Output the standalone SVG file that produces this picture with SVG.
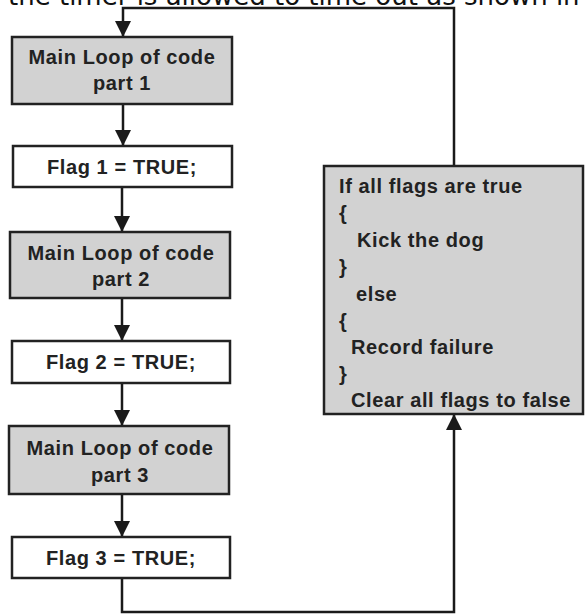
<svg xmlns="http://www.w3.org/2000/svg" width="586" height="614" viewBox="0 0 586 614">
<style>
.box{stroke:#222;stroke-width:2.5}
.gray{fill:#d2d2d2}
.white{fill:#fff}
.t{font-family:"Liberation Sans",Arial,Helvetica,sans-serif;font-weight:bold;font-size:20px;fill:#222;letter-spacing:0.6px}
.c{text-anchor:middle}
.ln{fill:none;stroke:#1a1a1a;stroke-width:2.5}
.hdr{font-family:"DejaVu Sans",Verdana,sans-serif;font-size:26px;fill:#111}
</style>
<defs>
<marker id="ah" markerUnits="userSpaceOnUse" markerWidth="16" markerHeight="16" refX="16" refY="8" orient="auto">
<path d="M0,0 L16,8 L0,16 z" fill="#1a1a1a"/>
</marker>
</defs>
<rect width="586" height="614" fill="#fff"/>
<text class="hdr" x="8" y="5">the timer is allowed to time out as shown in</text>
<g id="connectors">
<path class="ln" d="M454,166 V8 H123 V37" marker-end="url(#ah)"/>
<path class="ln" d="M123,104 V146" marker-end="url(#ah)"/>
<path class="ln" d="M122,187 V232" marker-end="url(#ah)"/>
<path class="ln" d="M122,298 V341" marker-end="url(#ah)"/>
<path class="ln" d="M122,383 V426" marker-end="url(#ah)"/>
<path class="ln" d="M122,494 V537" marker-end="url(#ah)"/>
<path class="ln" d="M122,578 V612 H454 V414" marker-end="url(#ah)"/>
</g>
<g id="main1">
<rect class="box gray" x="12" y="37" width="220" height="67"/>
<text class="t c" x="122" y="64">Main Loop of code</text>
<text class="t c" x="122" y="90">part 1</text>
</g>
<g id="flag1">
<rect class="box white" x="13" y="146" width="219" height="41"/>
<text class="t c" x="122" y="174">Flag 1 = TRUE;</text>
</g>
<g id="main2">
<rect class="box gray" x="10" y="232" width="220" height="66"/>
<text class="t c" x="121" y="260">Main Loop of code</text>
<text class="t c" x="121" y="286">part 2</text>
</g>
<g id="flag2">
<rect class="box white" x="12" y="341" width="218" height="42"/>
<text class="t c" x="121" y="369">Flag 2 = TRUE;</text>
</g>
<g id="main3">
<rect class="box gray" x="9" y="426" width="220" height="68"/>
<text class="t c" x="120" y="455">Main Loop of code</text>
<text class="t c" x="120" y="482">part 3</text>
</g>
<g id="flag3">
<rect class="box white" x="12" y="537" width="218" height="41"/>
<text class="t c" x="121" y="565">Flag 3 = TRUE;</text>
</g>
<g id="watchdog">
<rect class="box gray" x="324" y="166" width="259" height="248"/>
<text class="t" x="339" y="193">If all flags are true</text>
<text class="t" x="339" y="220">{</text>
<text class="t" x="357" y="247">Kick the dog</text>
<text class="t" x="339" y="274">}</text>
<text class="t" x="356" y="301">else</text>
<text class="t" x="339" y="328">{</text>
<text class="t" x="351" y="354">Record failure</text>
<text class="t" x="339" y="381">}</text>
<text class="t" x="351" y="407">Clear all flags to false</text>
</g>
</svg>
